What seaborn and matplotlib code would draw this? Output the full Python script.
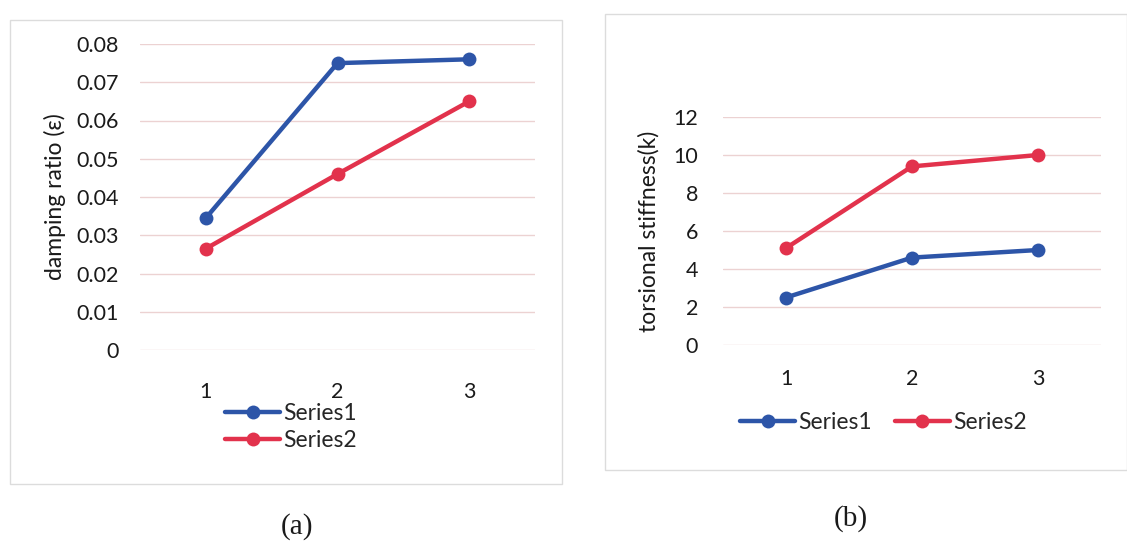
import matplotlib
matplotlib.use("Agg")
import matplotlib.pyplot as plt
from matplotlib.patches import Rectangle
import pandas as pd
import seaborn as sns

categories = [1, 2, 3]
series_names = ["Series1", "Series2"]
damping_series1 = [0.0345, 0.075, 0.076]
damping_series2 = [0.0265, 0.046, 0.065]
stiffness_series1 = [2.5, 4.6, 5.0]
stiffness_series2 = [5.1, 9.4, 10.0]
damping_ticks = [0, 0.01, 0.02, 0.03, 0.04, 0.05, 0.06, 0.07, 0.08]
damping_tick_labels = ["0", "0.01", "0.02", "0.03", "0.04", "0.05", "0.06", "0.07", "0.08"]
stiffness_ticks = [0, 2, 4, 6, 8, 10, 12]
panel_labels = ["(a)", "(b)"]

sns.set_theme(style="white")
plt.rcParams["font.family"] = ["Lato", "DejaVu Sans"]

BLUE = "#2d55a8"
RED = "#e2324c"
GRID = "#ecd2d2"
TXT = "#1a1a1a"


def long_frame(s1, s2):
    return pd.DataFrame({
        "x": categories * 2,
        "y": list(s1) + list(s2),
        "series": [series_names[0]] * 3 + [series_names[1]] * 3,
    })


fig = plt.figure(figsize=(11.27, 5.48), dpi=100)
W, H = 1127, 548


def px_axes(x0, y0, x1, y1):
    return fig.add_axes([x0 / W, 1 - y1 / H, (x1 - x0) / W, (y1 - y0) / H])


# chart frames
for (x0, y0, x1, y1) in [(10, 20, 562, 484), (605, 14, 1127, 470)]:
    fig.patches.append(Rectangle((x0 / W, 1 - y1 / H), (x1 - x0) / W, (y1 - y0) / H,
                                 transform=fig.transFigure, fill=False,
                                 edgecolor="#dcdcdc", linewidth=1.0))


def style_axes(ax, ticks, labels, ylabel, ypad, xpad, labelpad):
    ax.set_xlim(0.5, 3.5)
    ax.set_ylim(ticks[0], ticks[-1])
    ax.set_yticks(ticks)
    ax.set_yticklabels(labels)
    ax.set_xticks(categories)
    ax.set_xticklabels([str(c) for c in categories])
    ax.tick_params(axis="y", length=0, pad=ypad, labelsize=15.5, labelcolor=TXT)
    ax.tick_params(axis="x", length=0, pad=xpad, labelsize=15.5, labelcolor=TXT)
    ax.grid(axis="y", color=GRID, linewidth=1.0)
    ax.grid(axis="x", visible=False)
    ax.set_axisbelow(True)
    for s in ax.spines.values():
        s.set_visible(False)
    ax.set_xlabel("")
    ax.set_ylabel(ylabel, fontsize=16.5, color=TXT, labelpad=labelpad)
    ax.set_facecolor("none")


palette = {series_names[0]: BLUE, series_names[1]: RED}
line_kw = dict(x="x", y="y", hue="series", palette=palette, marker="o",
               markersize=10, linewidth=3.2, markeredgewidth=0)

# (a) damping ratio
ax1 = px_axes(140, 44, 535, 350)
sns.lineplot(data=long_frame(damping_series1, damping_series2), ax=ax1, **line_kw)
style_axes(ax1, damping_ticks, damping_tick_labels, "damping ratio (\u03b5)", 15, 23, 8)
ax1.legend(loc="upper left", bbox_to_anchor=(225 / W, 1 - 403 / H),
           bbox_transform=fig.transFigure, frameon=False, fontsize=16.5,
           handlelength=2.4, handletextpad=0.15, labelspacing=0.25,
           borderaxespad=0, borderpad=0)

# (b) torsional stiffness
ax2 = px_axes(723, 117, 1101, 345)
sns.lineplot(data=long_frame(stiffness_series1, stiffness_series2), ax=ax2, **line_kw)
style_axes(ax2, stiffness_ticks, [str(t) for t in stiffness_ticks],
           "torsional stiffness(k)", 18, 17, 10)
ax2.legend(loc="upper left", bbox_to_anchor=(740 / W, 1 - 412 / H),
           bbox_transform=fig.transFigure, frameon=False, fontsize=16.5, ncol=2,
           handlelength=2.4, handletextpad=0.15, columnspacing=1.0,
           borderaxespad=0, borderpad=0)

fig.text(297 / W, 1 - 527 / H, panel_labels[0], ha="center", va="center",
         fontsize=21, family="Liberation Serif", color=TXT)
fig.text(851 / W, 1 - 519 / H, panel_labels[1], ha="center", va="center",
         fontsize=21, family="Liberation Serif", color=TXT)

fig.savefig("out.png", dpi=100, facecolor="white")
